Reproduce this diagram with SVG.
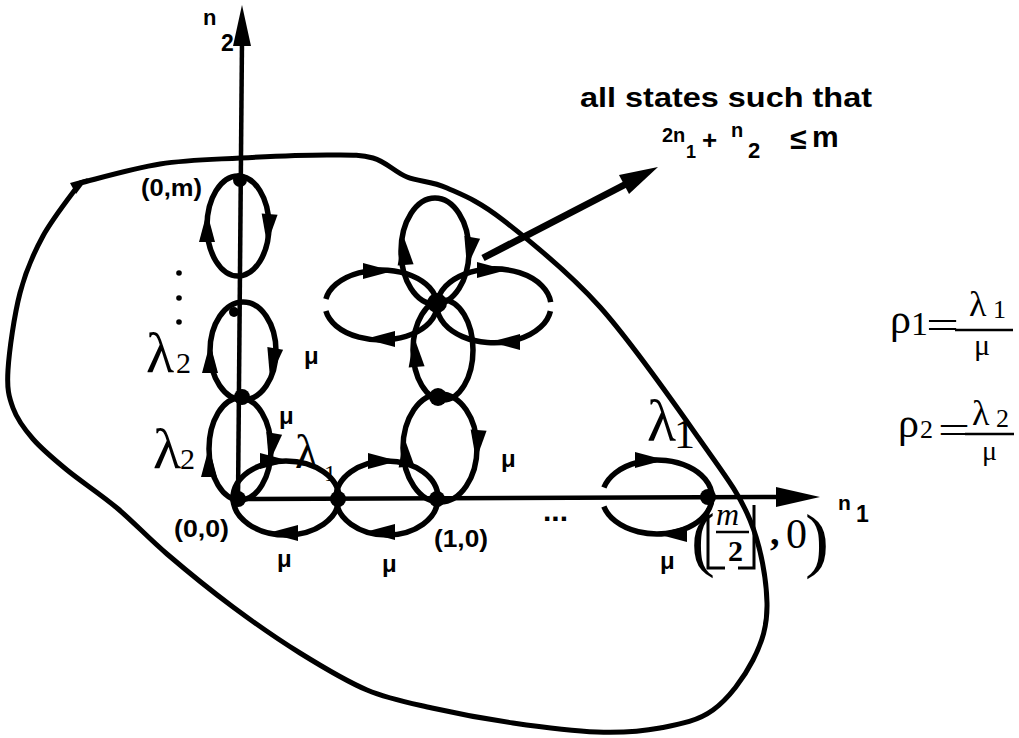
<svg xmlns="http://www.w3.org/2000/svg" xmlns:xlink="http://www.w3.org/1999/xlink" width="1019" height="738" viewBox="0 0 1019 738">
<style>
.ln{fill:none;stroke:#000;stroke-width:5.5}
.ax{stroke:#000;stroke-width:4.5;fill:none}
.bd{fill:none;stroke:#000;stroke-width:5;stroke-linejoin:round}
.nd{fill:#000}
.sans{font-family:"Liberation Sans",Arial,sans-serif;font-weight:bold;fill:#000}
.ser{font-family:"Liberation Serif","Times New Roman",serif;fill:#000}
.bar{stroke:#000;stroke-width:2.5}
</style>
<defs>
<path id="ah" d="M0,0 L-30,-8 L-30,8 Z" fill="#000"/>
</defs>
<rect width="1019" height="738" fill="#fff"/>

<g id="boundary">
<path class="bd" d="M80,183 C93.3,179.8 133.3,168.2 160,164 C186.7,159.8 212.2,159.5 240,158 C267.8,156.5 304.8,155 327,155 C349.2,155 359.7,154.3 373,158 C386.3,161.7 394.7,172 407,177 C419.3,182 431,180.8 447,188 C463,195.2 477.5,200.2 503,220 C528.5,239.8 567.2,270.3 600,307 C632.8,343.7 675,404.5 700,440 C725,475.5 738.8,492.8 750,520 C761.2,547.2 766.5,579.7 767,603 C767.5,626.3 762,642.2 753,660 C744,677.8 728.5,698.7 713,710 C697.5,721.3 679.3,724.3 660,728 C640.7,731.7 621.5,732.8 597,732 C572.5,731.2 540.5,727 513,723 C485.5,719 456.3,713.5 432,708 C407.7,702.5 389,699.2 367,690 C345,680.8 322.3,666.8 300,653 C277.7,639.2 255.2,623.5 233,607 C210.8,590.5 186.3,570.5 167,554 C147.7,537.5 133.7,522 117,508 C100.3,494 81,481.5 67,470 C53,458.5 42,449.3 33,439 C24,428.7 17.2,419.5 13,408 C8.8,396.5 6.8,389.2 8,370 C9.2,350.8 14.2,315.3 20,293 C25.8,270.7 33,254.3 43,236 C53,217.7 73.8,191.8 80,183"/>
<path d="M88,178 L70,183 L76,194 Z" fill="#000"/>
</g>

<g id="axes">
<line class="ax" x1="238" y1="500" x2="242" y2="40"/>
<polygon points="242,5 233,46 251,46" fill="#000"/>
<line class="ax" x1="238" y1="499" x2="780" y2="497"/>
<polygon points="820,497 776,487 776,507" fill="#000"/>
<text class="sans" x="203" y="25" font-size="22">n</text>
<text class="sans" x="221" y="51" font-size="23">2</text>
<text class="sans" x="838" y="510" font-size="21">n</text>
<text class="sans" x="856" y="522" font-size="23">1</text>
</g>

<g id="labels-behind">
<text class="ser" x="295" y="468" font-size="48">λ</text>
<text class="ser" x="324" y="481" font-size="24">1</text>
</g>

<g id="connectors">
<ellipse class="ln" cx="238" cy="226" rx="31" ry="50"/>
<ellipse class="ln" cx="243" cy="351" rx="33" ry="49"/>
<ellipse class="ln" cx="240" cy="449" rx="31" ry="51"/>
<ellipse class="ln" cx="286" cy="498" rx="53" ry="37"/>
<ellipse class="ln" cx="387" cy="498" rx="51" ry="37"/>
<ellipse class="ln" cx="440" cy="448" rx="37" ry="54"/>
<ellipse class="ln" cx="443" cy="350" rx="30" ry="50"/>
<ellipse class="ln" cx="435" cy="251" rx="34" ry="53"/>
<path class="ln" d="M325.9,298.9 A56,35 0 1 1 325.9,311.1"/>
<path class="ln" d="M550.4,311.1 A57,37 0 1 1 550.7,302.1"/>
<path class="ln" d="M603.9,487.4 A55,37 0 1 1 603.9,506.6"/>
<use xlink:href="#ah" transform="translate(207,212) rotate(-90)"/>
<use xlink:href="#ah" transform="translate(267,244) rotate(95)"/>
<use xlink:href="#ah" transform="translate(210,343) rotate(-90)"/>
<use xlink:href="#ah" transform="translate(270,378) rotate(100)"/>
<use xlink:href="#ah" transform="translate(209,447) rotate(-90)"/>
<use xlink:href="#ah" transform="translate(269,463) rotate(100)"/>
<use xlink:href="#ah" transform="translate(290,461) rotate(0)"/>
<use xlink:href="#ah" transform="translate(268,533) rotate(180)"/>
<use xlink:href="#ah" transform="translate(398,461) rotate(0)"/>
<use xlink:href="#ah" transform="translate(365,532) rotate(180)"/>
<use xlink:href="#ah" transform="translate(404,437) rotate(-95)"/>
<use xlink:href="#ah" transform="translate(476,460) rotate(95)"/>
<use xlink:href="#ah" transform="translate(414,337) rotate(-95)"/>
<use xlink:href="#ah" transform="translate(403,235) rotate(-95)"/>
<use xlink:href="#ah" transform="translate(467,267) rotate(100)"/>
<use xlink:href="#ah" transform="translate(393,271) rotate(0)"/>
<use xlink:href="#ah" transform="translate(365,339) rotate(180)"/>
<use xlink:href="#ah" transform="translate(507,270) rotate(0)"/>
<use xlink:href="#ah" transform="translate(490,342) rotate(180)"/>
<use xlink:href="#ah" transform="translate(665,460) rotate(0)"/>
<use xlink:href="#ah" transform="translate(657,534) rotate(180)"/>
<line x1="483" y1="258" x2="628" y2="183" stroke="#000" stroke-width="7"/>
<polygon points="658,167 619,175 629,194" fill="#000"/>
</g>

<g id="node-0-m"><circle class="nd" cx="240" cy="180" r="7"/><text class="sans" x="141" y="196" font-size="23" textLength="61" lengthAdjust="spacingAndGlyphs">(0,m)</text></g>
<g id="node-0-k"><circle class="nd" cx="234" cy="312" r="5"/></g>
<g id="node-0-1"><circle class="nd" cx="242" cy="397" r="8"/></g>
<g id="node-0-0"><circle class="nd" cx="238" cy="499" r="8"/><text class="sans" x="174" y="537" font-size="23" textLength="55" lengthAdjust="spacingAndGlyphs">(0,0)</text></g>
<g id="node-1-0"><circle class="nd" cx="437" cy="499" r="8"/><text class="sans" x="434" y="547" font-size="23" textLength="54" lengthAdjust="spacingAndGlyphs">(1,0)</text></g>
<g id="node-h1"><circle class="nd" cx="338" cy="499" r="8"/></g>
<g id="node-1-1"><circle class="nd" cx="438" cy="397" r="9"/></g>
<g id="node-center"><circle class="nd" cx="437" cy="303" r="10"/></g>
<g id="node-m2-0"><circle class="nd" cx="708" cy="497" r="8"/>
<text class="ser" x="691" y="563" font-size="72">(</text>
<polyline points="708,508 708,568 725,568" fill="none" stroke="#000" stroke-width="3"/>
<polyline points="738,568 754,568 754,505" fill="none" stroke="#000" stroke-width="3"/>
<text class="ser" x="716" y="525" font-size="32" font-style="italic">m</text>
<line class="bar" x1="716" y1="532" x2="749" y2="532"/>
<text class="ser" x="728" y="561" font-size="30" font-weight="bold">2</text>
<text class="ser" x="770" y="545" font-size="38" font-weight="bold">,</text>
<text class="ser" x="786" y="548" font-size="42">0</text>
<text class="ser" x="805" y="564" font-size="72">)</text>
</g>

<g id="vdots">
<circle cx="179" cy="273" r="2.8"/><circle cx="179" cy="298" r="2.8"/><circle cx="179" cy="322" r="2.8"/>
</g>

<g id="labels">
<text class="ser" x="146" y="372" font-size="58">λ</text>
<text class="ser" x="176" y="373" font-size="30">2</text>
<text class="ser" x="153" y="468" font-size="58">λ</text>
<text class="ser" x="180" y="469" font-size="30">2</text>
<text class="ser" x="647" y="441" font-size="60">λ</text>
<text class="ser" x="674" y="448" font-size="42">1</text>
<text class="sans" x="304" y="364" font-size="24">μ</text>
<text class="sans" x="279" y="424" font-size="24">μ</text>
<text class="sans" x="277" y="567" font-size="24">μ</text>
<text class="sans" x="382" y="572" font-size="24">μ</text>
<text class="sans" x="501" y="467" font-size="24">μ</text>
<text class="sans" x="660" y="569" font-size="24">μ</text>
<text class="sans" x="543" y="521" font-size="30">...</text>
</g>

<g id="caption">
<text class="sans" x="580" y="107" font-size="28" textLength="292" lengthAdjust="spacingAndGlyphs">all states such that</text>
<text class="sans" x="662" y="142" font-size="20">2n</text>
<text class="sans" x="686" y="158" font-size="18">1</text>
<text class="sans" x="702" y="149" font-size="26">+</text>
<text class="sans" x="731" y="137" font-size="20">n</text>
<text class="sans" x="748" y="158" font-size="22">2</text>
<text class="sans" x="790" y="149" font-size="30">≤</text>
<text class="sans" x="812" y="147" font-size="30">m</text>
</g>

<g id="rho1">
<text class="ser" x="890" y="333" font-size="42">ρ</text>
<text class="ser" x="911" y="335" font-size="34">1</text>
<text class="ser" x="926" y="339" font-size="40" textLength="33" lengthAdjust="spacingAndGlyphs">=</text>
<line class="bar" x1="955" y1="330" x2="1013" y2="330"/>
<text class="ser" x="969" y="316" font-size="36">λ</text>
<text class="ser" x="993" y="318" font-size="26">1</text>
<text class="ser" x="974" y="355" font-size="30">μ</text>
</g>
<g id="rho2">
<text class="ser" x="898" y="437" font-size="42">ρ</text>
<text class="ser" x="920" y="438" font-size="26">2</text>
<text class="ser" x="938" y="443" font-size="38" textLength="32" lengthAdjust="spacingAndGlyphs">=</text>
<line class="bar" x1="965" y1="434" x2="1014" y2="434"/>
<text class="ser" x="972" y="425" font-size="36">λ</text>
<text class="ser" x="996" y="427" font-size="26">2</text>
<text class="ser" x="982" y="460" font-size="28">μ</text>
</g>
</svg>
